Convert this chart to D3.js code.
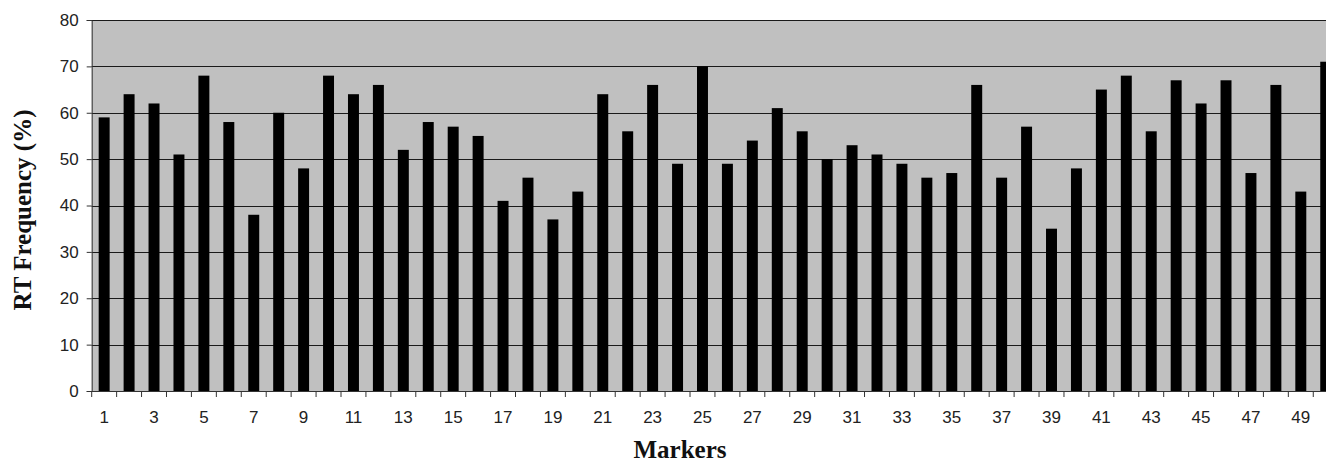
<!DOCTYPE html>
<html>
<head>
<meta charset="utf-8">
<script src="https://cdn.jsdelivr.net/npm/d3@7"></script>
<style>
  html, body { margin: 0; padding: 0; background: #fff; }
  svg { display: block; }
</style>
</head>
<body>
<svg id="chart" width="1326" height="462"></svg>
<script>
const markers = d3.range(1, 51);
const rtFrequency = [
  59, 64, 62, 51, 68, 58, 38, 60, 48, 68,
  64, 66, 52, 58, 57, 55, 41, 46, 37, 43,
  64, 56, 66, 49, 70, 49, 54, 61, 56, 50,
  53, 51, 49, 46, 47, 66, 46, 57, 35, 48,
  65, 68, 56, 67, 62, 67, 47, 66, 43, 71
];
const yTicks = [0, 10, 20, 30, 40, 50, 60, 70, 80];
const xTickLabels = markers.filter(d => d % 2 === 1);

(function () {
const svg = d3.select("#chart");
const mLeft = 91.7, mRight = 1338.2, mTop = 20, mBottom = 391;

const x = d3.scaleBand().domain(markers).range([mLeft, mRight]).padding(0);
const y = d3.scaleLinear().domain([0, 80]).range([mBottom, mTop]);

// plot background
svg.append("rect")
  .attr("x", mLeft).attr("y", mTop)
  .attr("width", mRight - mLeft).attr("height", mBottom - mTop)
  .attr("fill", "#c0c0c0");

// gridlines
svg.append("g").selectAll("line").data(yTicks.filter(d => d > 0)).join("line")
  .attr("x1", mLeft).attr("x2", mRight)
  .attr("y1", d => Math.round(y(d)) + 0.5).attr("y2", d => Math.round(y(d)) + 0.5)
  .attr("stroke", "#1a1a1a").attr("stroke-width", 1);

// bars
const barW = x.bandwidth() * 0.44;
svg.append("g").selectAll("rect").data(markers).join("rect")
  .attr("x", (d) => x(d) + (x.bandwidth() - barW) / 2)
  .attr("y", (d, i) => y(rtFrequency[i]))
  .attr("width", barW)
  .attr("height", (d, i) => y(0) - y(rtFrequency[i]))
  .attr("fill", "#000");

// y axis
const yAxis = d3.axisLeft(y).tickValues(yTicks).tickSize(5).tickPadding(8);
const gy = svg.append("g").attr("transform", `translate(${mLeft},0)`).call(yAxis);
gy.select(".domain").attr("stroke", "#333");
gy.selectAll(".tick line").attr("stroke", "#333");
gy.selectAll(".tick text")
  .attr("font-family", "Liberation Sans, Arial, sans-serif")
  .attr("font-size", 17).attr("fill", "#222");

// x axis
const gx = svg.append("g").attr("transform", `translate(0,${mBottom})`);
gx.append("line").attr("x1", mLeft).attr("x2", mRight).attr("y1", 0.5).attr("y2", 0.5)
  .attr("stroke", "#333");
const boundaries = markers.map(d => x(d)).concat([mRight]);
gx.selectAll("line.tk").data(boundaries).join("line").attr("class", "tk")
  .attr("x1", d => d).attr("x2", d => d).attr("y1", 0).attr("y2", 6)
  .attr("stroke", "#333");
gx.selectAll("text").data(xTickLabels).join("text")
  .attr("x", d => x(d) + x.bandwidth() / 2)
  .attr("y", 32)
  .attr("text-anchor", "middle")
  .attr("font-family", "Liberation Sans, Arial, sans-serif")
  .attr("font-size", 17).attr("fill", "#222")
  .text(d => d);

// axis titles
svg.append("text")
  .attr("transform", "translate(31,210) rotate(-90)")
  .attr("text-anchor", "middle")
  .attr("font-family", "Liberation Serif, Times New Roman, serif")
  .attr("font-weight", "bold").attr("font-size", 25).attr("fill", "#111")
  .text("RT Frequency (%)");
svg.append("text")
  .attr("x", 680).attr("y", 458)
  .attr("text-anchor", "middle")
  .attr("font-family", "Liberation Serif, Times New Roman, serif")
  .attr("font-weight", "bold").attr("font-size", 25).attr("fill", "#111")
  .text("Markers");
})();
</script>
</body>
</html>
